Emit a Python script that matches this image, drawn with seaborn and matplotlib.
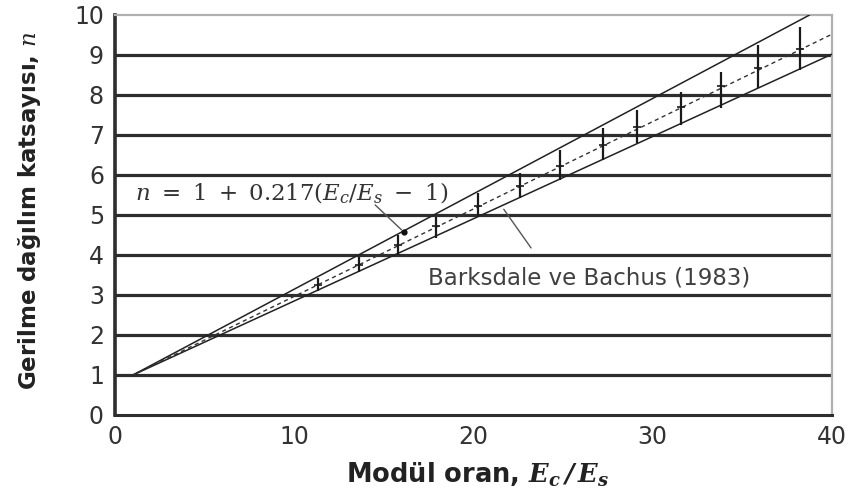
import matplotlib
matplotlib.use("Agg")
import matplotlib.pyplot as plt
import seaborn as sns
import pandas as pd

# ---- data ----
band_x = [1, 38.75]
upper_y = [1, 10.0]
lower_x = [1, 40]
lower_y = [1, 9.02]
fit_x = [1, 40]
fit_y = [1, 9.52]

bar_x = [11.3, 13.6, 15.8, 17.9, 20.25, 22.6, 24.8, 27.2, 29.1, 31.6, 33.8, 35.9, 38.2]
bar_lo = [3.10, 3.58, 4.00, 4.42, 4.96, 5.42, 5.88, 6.37, 6.80, 7.25, 7.67, 8.17, 8.63]
bar_hi = [3.42, 3.95, 4.50, 4.95, 5.55, 6.04, 6.63, 7.17, 7.63, 8.08, 8.58, 9.25, 9.70]
bar_mean = [3.25, 3.75, 4.25, 4.72, 5.22, 5.72, 6.22, 6.75, 7.20, 7.70, 8.22, 8.68, 9.15]

grid_levels = [1, 2, 3, 4, 5, 6, 7, 8, 9]
x_ticks = [0, 10, 20, 30, 40]
y_ticks = [0, 1, 2, 3, 4, 5, 6, 7, 8, 9, 10]

formula_text = r"$n\ =\ 1\ +\ 0.217(E_c/E_s\ -\ 1)$"
source_text = "Barksdale ve Bachus (1983)"
x_label = r"Modül oran, $\mathbf{E_c\,/\,E_s}$"
y_label = r"Gerilme dağılım katsayısı, $n$"

# ---- style ----
sns.set_style("white")
plt.rcParams["font.family"] = ["DejaVu Sans"]
plt.rcParams["mathtext.fontset"] = "custom"
plt.rcParams["mathtext.rm"] = "DejaVu Serif"
plt.rcParams["mathtext.it"] = "DejaVu Serif:italic"
plt.rcParams["mathtext.bf"] = "DejaVu Serif:bold:italic"

fig = plt.figure(figsize=(8.54, 5.0), dpi=100)
ax = fig.add_axes([0.1347, 0.17, 0.8395, 0.80])

ax.hlines(grid_levels, 0, 40, colors="#2e2e2e", linewidth=2.3, zorder=1)

df_up = pd.DataFrame({"x": band_x, "y": upper_y})
df_lo = pd.DataFrame({"x": lower_x, "y": lower_y})
df_fit = pd.DataFrame({"x": fit_x, "y": fit_y})
sns.lineplot(data=df_up, x="x", y="y", ax=ax, color="#222222", linewidth=1.1, zorder=3)
sns.lineplot(data=df_lo, x="x", y="y", ax=ax, color="#222222", linewidth=1.1, zorder=3)
sns.lineplot(data=df_fit, x="x", y="y", ax=ax, color="#333333", linewidth=1.0,
             linestyle=(0, (3, 2.5)), zorder=3)

ax.vlines(bar_x, bar_lo, bar_hi, colors="#1a1a1a", linewidth=1.6, zorder=4)
df_m = pd.DataFrame({"x": bar_x, "y": bar_mean})
sns.scatterplot(data=df_m, x="x", y="y", ax=ax, marker="_", s=30, color="#1a1a1a",
                linewidth=1.2, zorder=5)

# annotations
ax.text(9.85, 5.55, formula_text, fontsize=16.5, color="#333333",
        ha="center", va="center", zorder=6)
ax.annotate("", xy=(16.1, 4.58), xytext=(14.4, 5.3),
            arrowprops=dict(arrowstyle="-", color="#555555", lw=1.0), zorder=6)
ax.plot([16.1], [4.58], marker="o", markersize=3.5, color="#111111", zorder=6)

ax.text(26.45, 3.43, source_text, fontsize=16.5, color="#404040",
        ha="center", va="center", zorder=6)
ax.annotate("", xy=(21.6, 5.2), xytext=(23.3, 4.12),
            arrowprops=dict(arrowstyle="-", color="#555555", lw=1.0), zorder=6)

ax.set_xlim(0, 40)
ax.set_ylim(0, 10)
ax.set_xticks(x_ticks)
ax.set_yticks(y_ticks)
ax.tick_params(axis="both", labelsize=17, colors="#333333", direction="out")
ax.tick_params(axis="y", length=5, width=1.5, pad=3)
ax.tick_params(axis="x", length=3, width=1.5, pad=4)

for s in ["left", "bottom"]:
    ax.spines[s].set_color("#2e2e2e")
ax.spines["left"].set_linewidth(2.6)
ax.spines["bottom"].set_linewidth(2.2)
for s in ["top", "right"]:
    ax.spines[s].set_color("#b0b0b0")
    ax.spines[s].set_linewidth(1.6)

ax.set_xlabel(x_label, fontsize=18.5, fontweight="bold", color="#222222")
ax.set_ylabel(y_label, fontsize=16.5, fontweight="bold", color="#222222")
ax.xaxis.set_label_coords(0.506, -0.115)
ax.yaxis.set_label_coords(-0.10, 0.51)

fig.savefig("out.png", dpi=100)
